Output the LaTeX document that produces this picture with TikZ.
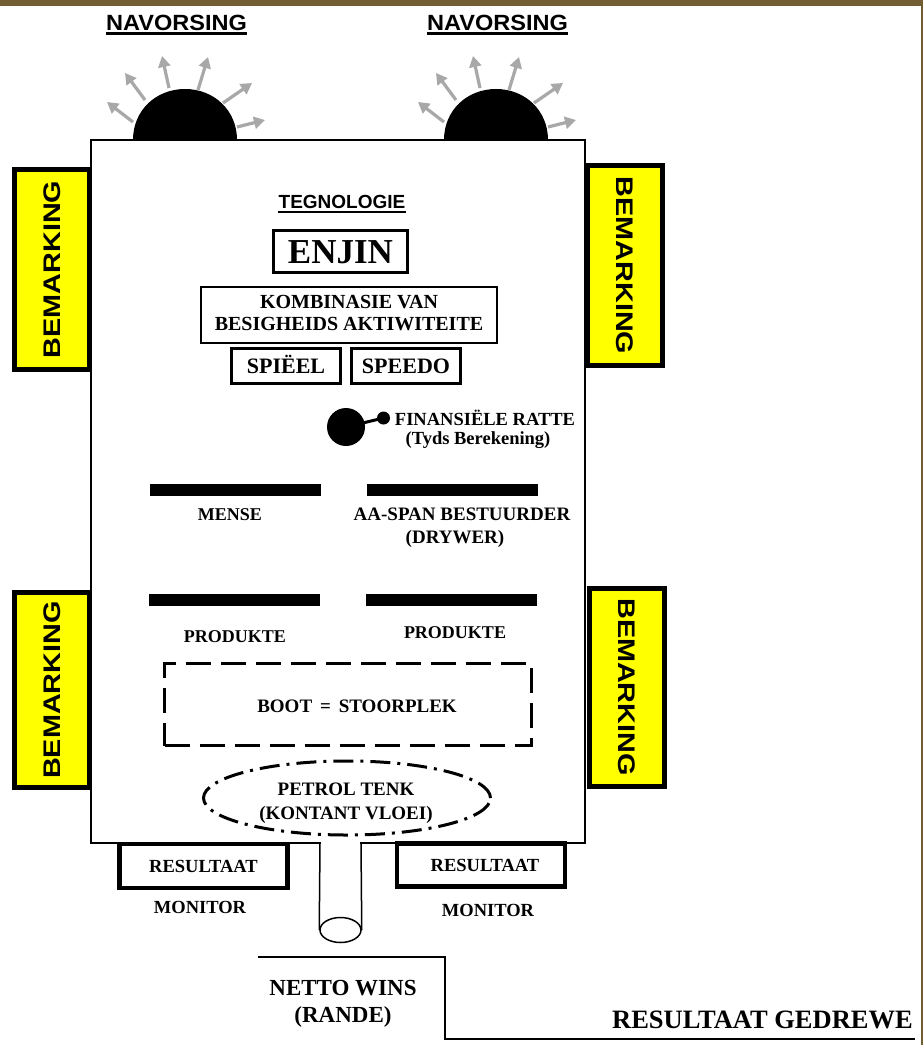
\documentclass[tikz,border=0pt]{standalone}
\usepackage{fontspec}
\setmainfont{Liberation Serif}
\newfontfamily\arialf{Liberation Sans}
\usetikzlibrary{arrows.meta,shapes.geometric}
\definecolor{frame}{HTML}{735D33}
\definecolor{raygrey}{HTML}{A8A8A8}
\definecolor{yel}{HTML}{FFFF00}
\newcommand\fsz[1]{\fontsize{#1}{#1}\selectfont}
\begin{document}
\begin{tikzpicture}[x=1pt,y=-1pt,
  txt/.style={inner sep=0pt,anchor=base},
  sb/.style={font=\arialf\bfseries\fsz{#1}},
  rb/.style={font=\bfseries\fsz{#1}},
  bemark/.style={draw=black,fill=yel,line width=5pt,minimum width=75pt,minimum height=200pt,inner sep=0pt},
  tbox/.style={draw=black,inner sep=0pt,text depth=0pt},
  bar/.style={fill=black,inner sep=0pt,minimum width=171pt,minimum height=12pt},
  ray/.style={draw=raygrey,line width=3.2pt,-{Triangle[length=11pt,width=12pt]}},
]
\useasboundingbox (0,0) rectangle (923,1045);
\fill[white] (0,0) rectangle (923,1045);
\fill[frame] (0,0) rectangle (923,6);
\fill[frame] (920.5,0) rectangle (923,1045);

% domes with rays
\foreach \cx in {185,496} {
  \fill[black] (\cx-52,140) .. controls (\cx-52,110) and (\cx-28.7,89) .. (\cx,89)
     .. controls (\cx+28.7,89) and (\cx+52,110) .. (\cx+52,140) -- cycle;
  \foreach \sx/\sy/\ex/\ey in {-52/-18/-78/-38, -40/-40/-60/-67, -16/-52/-23/-84,
                               13/-50/23/-83, 38/-37/67/-57, 52/-13/80/-20}
     \draw[ray] (\cx+\sx,140+\sy) -- (\cx+\ex,140+\ey);
}

% main body
\node[draw=black,line width=2pt,minimum width=494pt,minimum height=703pt,inner sep=0pt] (car) at (338,491.5) {};

% NAVORSING labels
\node[txt,sb=22] (nav1) at (176.5,30) {\scalebox{1.07}[1]{NAVORSING}};
\node[txt,sb=22] (nav2) at (497.5,30) {\scalebox{1.07}[1]{NAVORSING}};
\draw[line width=2.2pt] ([yshift=-3.5pt]nav1.base west) -- ([yshift=-3.5pt]nav1.base east);
\draw[line width=2.2pt] ([yshift=-3.5pt]nav2.base west) -- ([yshift=-3.5pt]nav2.base east);

% BEMARKING boxes
\node[bemark,minimum height=200pt] (bm1) at (52,269.5) {};
\node[sb=24,rotate=90] (bm1t) at (bm1.center) {\scalebox{1.2}[1]{BEMARKING}};
\node[bemark,minimum height=195pt] (bm2) at (52,690) {};
\node[sb=24,rotate=90] (bm2t) at (bm2.center) {\scalebox{1.2}[1]{BEMARKING}};
\node[bemark,minimum height=200pt] (bm3) at (625,265.5) {};
\node[sb=24,rotate=-90] (bm3t) at (bm3.center) {\scalebox{1.2}[1]{BEMARKING}};
\node[bemark,minimum height=198pt] (bm4) at (627,687) {};
\node[sb=24,rotate=-90] (bm4t) at (bm4.center) {\scalebox{1.2}[1]{BEMARKING}};

% TEGNOLOGIE
\node[txt,sb=19] (teg) at (342,208) {TEGNOLOGIE};
\draw[line width=2pt] ([yshift=-3.5pt]teg.base west) -- ([yshift=-3.5pt]teg.base east);

% boxes
\node[tbox,rb=35,text height=23pt,line width=3pt,minimum width=134pt,minimum height=42pt] (enjin) at (340.5,251.5) {ENJIN};
\node[draw=black,line width=2.5pt,minimum width=296pt,minimum height=56pt,inner sep=0pt] (komb) at (349,315) {};
\node[txt,rb=20] (komb1) at (349,308) {KOMBINASIE VAN};
\node[txt,rb=20] (komb2) at (349,330) {BESIGHEIDS AKTIWITEITE};
\node[tbox,rb=22,text height=14.6pt,line width=2.5pt,minimum width=109pt,minimum height=35pt] (spieel) at (286,366) {SPIËEL};
\node[tbox,rb=22,text height=14.6pt,line width=2.5pt,minimum width=109pt,minimum height=35pt] (speedo) at (406,366) {SPEEDO};

% finansiele ratte
\node[circle,fill=black,minimum size=38pt,inner sep=0pt] (big) at (346,427) {};
\node[circle,fill=black,minimum size=13pt,inner sep=0pt] (small) at (383.5,418) {};
\draw[line width=3pt] (big.center) -- (small.center);
\node[txt,rb=18.5] (fin1) at (485,425) {FINANSIËLE RATTE};
\node[txt,rb=18.5] (fin2) at (478,444) {(Tyds Berekening)};

% bars
\node[bar] (bar1) at (235.5,490) {};
\node[bar] (bar2) at (452.5,490) {};
\node[bar] (bar3) at (234,600) {};
\node[bar] (bar4) at (451.5,600) {};
\node[txt,rb=18] (mense) at (230,520) {MENSE};
\node[txt,rb=19] (aaspan) at (462,520) {AA-SPAN BESTUURDER};
\node[txt,rb=19] (drywer) at (455,543) {(DRYWER)};
\node[txt,rb=18] (prod1) at (235,642) {PRODUKTE};
\node[txt,rb=18] (prod2) at (455,638) {PRODUKTE};

% boot
\node[draw=black,line width=3pt,dash pattern=on 25pt off 10pt,minimum width=367pt,minimum height=82pt,inner sep=0pt] (boot) at (348,704.5) {};
\node[txt,rb=19] (boott) at (357,712) {BOOT \,=\, STOORPLEK};

% petrol tank
\node[ellipse,draw=black,line width=3pt,dash pattern=on 20pt off 7pt on 3pt off 7pt,minimum width=287pt,minimum height=74pt,inner sep=0pt] (tank) at (347,798) {};
\node[txt,rb=19] (tank1) at (346,795) {PETROL TENK};
\node[txt,rb=19] (tank2) at (346,819) {(KONTANT VLOEI)};

% pipe
\coordinate (pl) at (320,843);
\coordinate (pr) at (361,843);
\fill[white] (321,840) rectangle (360,846);
\node[ellipse,draw=black,line width=1.5pt,minimum width=41pt,minimum height=25pt,inner sep=0pt] (pipeend) at (340.5,930) {};
\draw[line width=1.5pt] (pl) -- (pipeend.west);
\draw[line width=1.5pt] (pr) -- (pipeend.east);

% resultaat boxes
\node[tbox,rb=18.5,text height=12.3pt,line width=4.5pt,minimum width=168pt,minimum height=44pt] (res1) at (203.5,866) {RESULTAAT};
\node[tbox,rb=18.5,text height=12.3pt,line width=4.5pt,minimum width=168pt,minimum height=43pt] (res2) at (481,865) {\hspace*{8pt}RESULTAAT};
\node[txt,rb=18.5] (mon1) at (200,913) {MONITOR};
\node[txt,rb=18.5] (mon2) at (488,916) {MONITOR};

% netto wins bracket
\coordinate (b1) at (258,957);
\coordinate (b2) at (445,957);
\coordinate (b3) at (445,1039);
\coordinate (b4) at (915,1039);
\draw[line width=2pt] (b1) -- (b2) -- (b3) -- (b4);
\node[txt,rb=23] (netto1) at (343,995) {NETTO WINS};
\node[txt,rb=23] (netto2) at (343,1022) {(RANDE)};
\node[inner sep=0pt,anchor=base east,rb=26.5] (gedrewe) at (913,1028) {RESULTAAT GEDREWE};
\end{tikzpicture}
\end{document}
